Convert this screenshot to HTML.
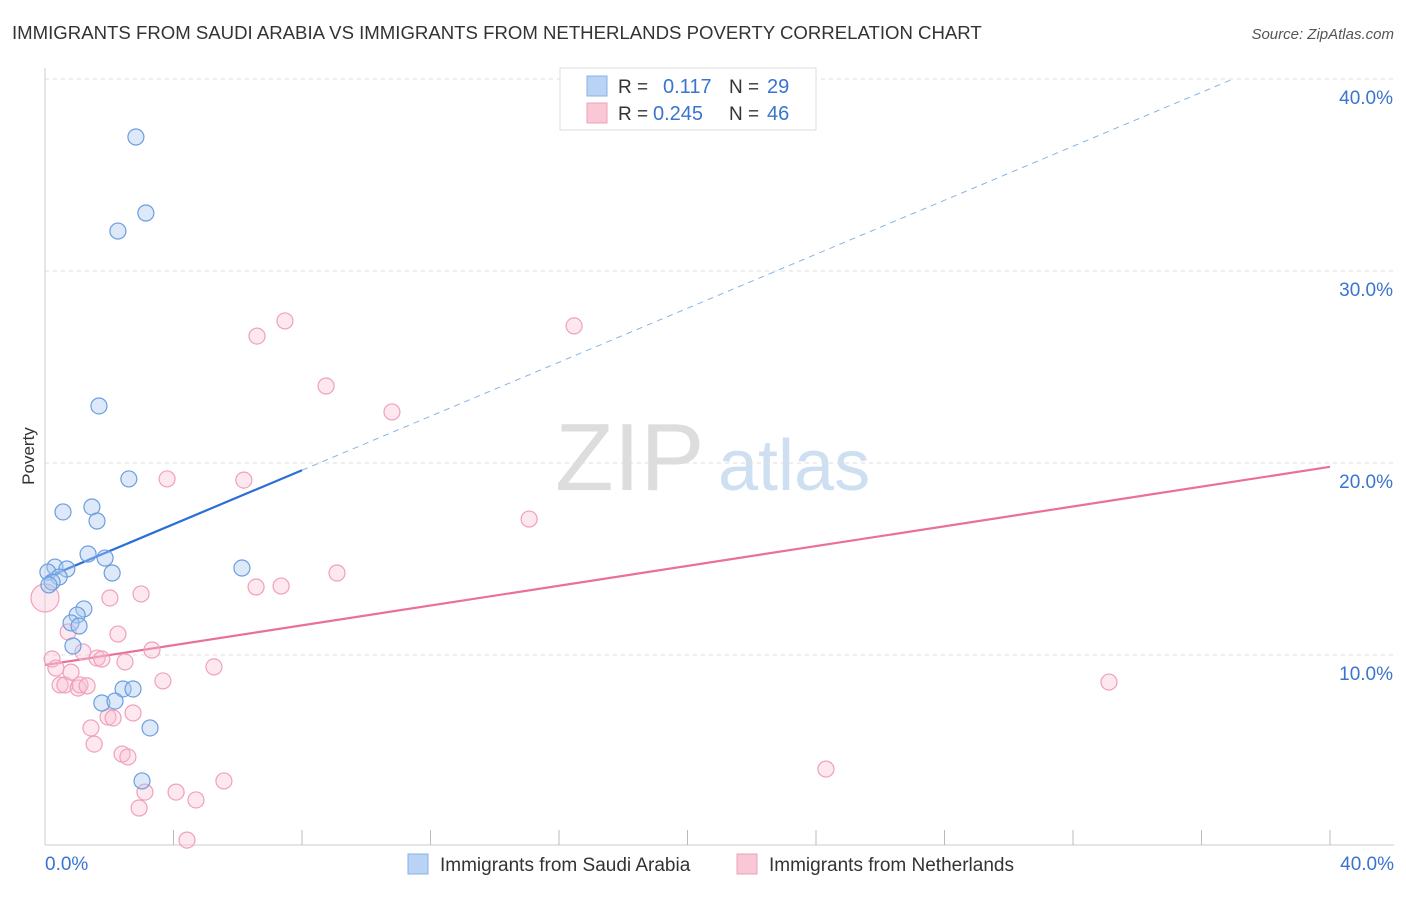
<!DOCTYPE html>
<html><head><meta charset="utf-8"><style>
body{margin:0;background:#fff;font-family:"Liberation Sans",sans-serif;}
svg text{font-family:"Liberation Sans",sans-serif;}
</style></head><body>
<svg id="chart" width="1406" height="892" xmlns="http://www.w3.org/2000/svg">
<text x="12" y="39" font-size="18.6" fill="#333">IMMIGRANTS FROM SAUDI ARABIA VS IMMIGRANTS FROM NETHERLANDS POVERTY CORRELATION CHART</text>
<text x="1394" y="39" font-size="15" fill="#555" text-anchor="end" font-style="italic">Source: ZipAtlas.com</text>
<text x="34" y="456" font-size="17" fill="#333" text-anchor="middle" transform="rotate(-90 34 456)">Poverty</text>
<text x="555" y="490" font-size="96" fill="#ddd" font-family="Liberation Serif">ZIP</text>
<text x="718" y="490" font-size="72" fill="#cfdff2">atlas</text>
<g id="grid"></g><g id="trend"></g><g id="pts"></g>
<g>
<rect x="560" y="68" width="256" height="62" fill="#fff" stroke="#ddd"/>
<rect x="587" y="76" width="20" height="20" fill="#b8d3f3" stroke="#8ab2e8"/>
<rect x="587" y="103" width="20" height="20" fill="#f9c8d6" stroke="#f0a0ba"/>
<text x="618" y="93" font-size="19" fill="#333">R =</text><text x="663" y="93" font-size="20" fill="#3a74d0">0.117</text>
<text x="729" y="93" font-size="19" fill="#333">N =</text><text x="767" y="93" font-size="20" fill="#3a74d0">29</text>
<text x="618" y="120" font-size="19" fill="#333">R =</text><text x="653" y="120" font-size="20" fill="#3a74d0">0.245</text>
<text x="729" y="120" font-size="19" fill="#333">N =</text><text x="767" y="120" font-size="20" fill="#3a74d0">46</text>
</g>
<g>
<rect x="408" y="854" width="20" height="20" fill="#b8d3f3" stroke="#8ab2e8"/>
<text x="440" y="871" font-size="19" fill="#333">Immigrants from Saudi Arabia</text>
<rect x="737" y="854" width="20" height="20" fill="#f9c8d6" stroke="#f0a0ba"/>
<text x="769" y="871" font-size="19" fill="#333">Immigrants from Netherlands</text>
</g>
</svg>
<script>
const yTicks=[10,20,30,40];
const yTickLabels=["10.0%","20.0%","30.0%","40.0%"];
const xTicks=[4,8,12,16,20,24,28,32,36,40];
const blueX=[2.83,3.14,2.27,1.68,2.61,1.46,0.56,1.62,1.34,1.87,2.09,0.31,0.68,0.09,0.44,0.22,0.12,1.21,1.00,0.81,1.06,0.87,6.13,2.43,2.74,1.77,2.18,3.27,3.02];
const blueY=[36.98,33.02,32.08,22.97,19.17,17.71,17.45,16.98,15.26,15.05,14.27,14.58,14.48,14.32,14.06,13.80,13.65,12.40,12.08,11.67,11.51,10.47,14.53,8.23,8.23,7.50,7.60,6.20,3.44];
const pinkX=[0,0.22,0.34,0.47,0.62,0.72,0.81,1.18,1.03,1.09,1.31,1.62,1.77,2.02,2.27,2.49,2.99,3.33,3.67,3.80,2.74,1.96,2.12,1.43,1.53,2.40,2.58,3.11,2.93,4.08,4.70,4.42,5.26,5.57,6.19,6.60,7.47,6.57,7.35,8.75,9.09,10.80,16.47,15.07,33.12,24.31];
const pinkY=[12.97,9.79,9.32,8.44,8.44,11.20,9.11,10.16,8.28,8.44,8.39,9.84,9.79,12.97,11.09,9.64,13.18,10.26,8.65,19.17,6.98,6.77,6.72,6.20,5.36,4.84,4.69,2.86,2.03,2.86,2.45,0.36,9.38,3.44,19.11,26.61,27.40,13.54,13.59,24.01,14.27,22.66,27.14,17.08,8.59,4.06];
const blueTrend=[14.0,0.703];
const pinkTrend=[9.48,0.258];
const X=v=>45+v*32.125, Y=v=>847-v*19.2;
const NS="http://www.w3.org/2000/svg";
function mk(p,t,a){const e=document.createElementNS(NS,t);for(const k in a)e.setAttribute(k,a[k]);p.appendChild(e);return e;}
const g=document.getElementById('grid');
let ax=mk(g,'line',{x1:45,y1:68,x2:45,y2:845,stroke:'#ccc'});


let bx=mk(g,'line',{x1:45,y1:845,x2:1394,y2:845,stroke:'#ccc'});


yTicks.forEach((t,i)=>{
 const l=mk(g,'line',{x1:45,y1:Y(t),x2:1394,y2:Y(t),stroke:'#ddd','stroke-dasharray':'4,4'});
 
 
 const tx=mk(g,'text',{x:1393,y:Y(t)+25,'font-size':19,fill:'#3a74d0','text-anchor':'end'});
 tx.textContent=yTickLabels[i];
 
 
});
xTicks.forEach(t=>{
 const l=mk(g,'line',{x1:X(t),y1:830,x2:X(t),y2:845,stroke:'#bbb'});
 
 
});
let x0=mk(g,'text',{x:45,y:870,'font-size':19,fill:'#3a74d0'});x0.textContent='0.0%';


let x1=mk(g,'text',{x:1394,y:870,'font-size':19,fill:'#3a74d0','text-anchor':'end'});x1.textContent='40.0%';


const tr=document.getElementById('trend');
const by=x=>blueTrend[0]+blueTrend[1]*x, py=x=>pinkTrend[0]+pinkTrend[1]*x;
let b1=mk(tr,'line',{x1:X(0),y1:Y(by(0)),x2:X(8),y2:Y(by(8)),stroke:'#2a6fd6','stroke-width':2.2});


let b2=mk(tr,'line',{x1:X(8),y1:Y(by(8)),x2:X(36.9),y2:Y(by(36.9)),stroke:'#8ab2e8','stroke-width':1,'stroke-dasharray':'6,5'});


let p1=mk(tr,'line',{x1:X(0),y1:Y(py(0)),x2:X(40),y2:Y(py(40)),stroke:'#e8709a','stroke-width':2.2});


const pg=document.getElementById('pts');
pinkX.forEach((v,i)=>{
 const c=mk(pg,'circle',{cx:X(v),cy:Y(pinkY[i]),r:i==0?14:8,fill:'rgba(249,190,208,0.35)',stroke:'#f0a0ba','stroke-width':1.2});
 
 
});
blueX.forEach((v,i)=>{
 const c=mk(pg,'circle',{cx:X(v),cy:Y(blueY[i]),r:8,fill:'rgba(170,200,240,0.4)',stroke:'#6a9ee0','stroke-width':1.2});
 
 
});
</script>
</body></html>
